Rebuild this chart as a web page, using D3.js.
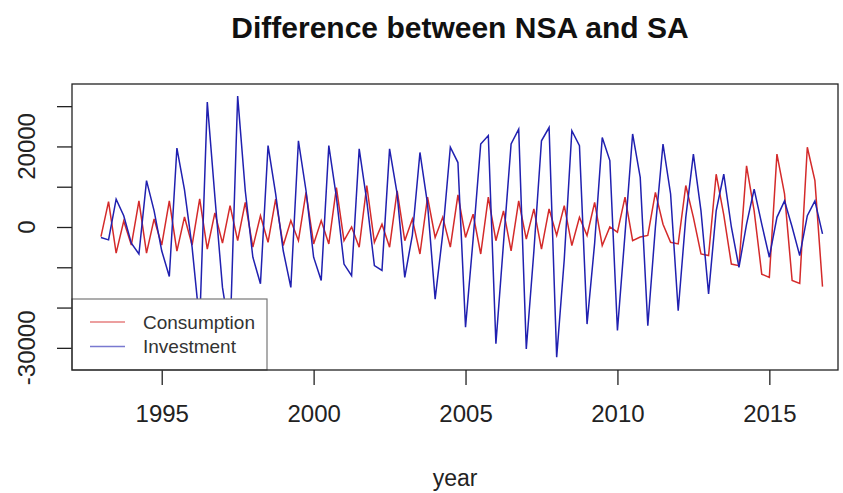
<!DOCTYPE html>
<html>
<head>
<meta charset="utf-8">
<script src="https://cdn.jsdelivr.net/npm/d3@7"></script>
<style>
  body { margin: 0; background: #fff; }
  text { font-family: "Liberation Sans", Arial, sans-serif; }
</style>
</head>
<body>
<svg id="stage"></svg>
<script>
/* ---------- data ---------- */

const start_year = 1993;
const series_names = ["Consumption", "Investment"];
const series_colors = ["#d42a2a", "#2020b0"];

// quarterly, 1993 Q1 .. 2016 Q4
const consumption = [
  -2400, 6300, -6500, 1500,
  -4500, 6500, -6500, 2000,
  -4500, 6500, -6000, 2500,
  -4500, 7000, -5500, 3500,
  -4000, 5300, -3400, 6100,
  -5000, 2800, -3800, 6900,
  -4600, 1600, -3400, 8600,
  -4200, 1600, -4200, 9800,
  -3400, 0, -5000, 10300,
  -3800, 700, -5000, 9000,
  -3400, 2000, -6700, 7400,
  -2600, 2400, -5000, 8000,
  -2600, 3200, -6700, 7400,
  -3400, 4000, -5900, 6500,
  -3000, 4500, -5500, 4500,
  -2100, 5300, -4600, 2400,
  -2100, 6100, -4600, 0,
  -1300, 7400, -3400, -2500,
  -2100, 8600, 700, -3800,
  -4200, 10300, 2400, -6700,
  -7100, 13100, 3000, -9200,
  -9600, 15200, 4000, -11700,
  -12500, 18100, 8200, -13300,
  -14000, 19800, 11500, -14800
];

const investment = [
  -2600, -3200, 6900, 2800,
  -4000, -6700, 11500, 4000,
  -5900, -12300, 19600, 9200,
  -5000, -24000, 31000, 7500,
  -15000, -27000, 32500, 9000,
  -7500, -14100, 20200, 8200,
  -5900, -15000, 21400, 9000,
  -7500, -13300, 20200, 7400,
  -9200, -12100, 19400, 6500,
  -9600, -10800, 19400, 8200,
  -12500, -2000, 18500, 5700,
  -17900, -1700, 19800, 16000,
  -24900, -3000, 20600, 22700,
  -29000, -4000, 20600, 24300,
  -30300, -6000, 21400, 24700,
  -32300, -8000, 23900, 20200,
  -24100, -4000, 22200, 16500,
  -25700, -1700, 23100, 12300,
  -24500, 0, 20600, 8200,
  -20800, 2400, 18100, 4000,
  -16600, 4000, 13100, 0,
  -10000, 700, 9400, 700,
  -7500, 2400, 6500, 0,
  -7100, 2800, 6500, -1700
];

const x_ticks = [1995, 2000, 2005, 2010, 2015];
const y_ticks = [-30000, -20000, -10000, 0, 10000, 20000, 30000];
const y_tick_labels = [-30000, 0, 20000];

/* ---------- basic setup ---------- */

const width = 843;
const height = 493;
const box = { left: 72, right: 838, top: 84, bottom: 370 };

const svg = d3.select("#stage")
  .attr("width", width)
  .attr("height", height);

const x = d3.scaleLinear()
  .domain([1992.047, 2017.26])
  .range([box.left, box.right]);

const y = d3.scaleLinear()
  .domain([-35500, 35500])
  .range([box.bottom, box.top]);

const series = [consumption, investment].map((vals, k) => ({
  name: series_names[k],
  color: series_colors[k],
  points: vals.map((v, i) => ({ t: start_year + i / 4, v }))
}));

/* ---------- lines ---------- */

const line = d3.line()
  .x(d => x(d.t))
  .y(d => y(d.v));

svg.append("g")
  .selectAll("path")
  .data(series)
  .join("path")
  .attr("d", d => line(d.points))
  .attr("fill", "none")
  .attr("stroke", d => d.color)
  .attr("stroke-width", 1.5)
  .attr("stroke-linejoin", "miter");

/* ---------- axes ---------- */

const x_axis = svg.append("g")
  .attr("transform", `translate(0, ${box.bottom})`)
  .call(d3.axisBottom(x).tickValues(x_ticks).tickFormat(d3.format("d")).tickSize(15).tickPadding(20));

const y_axis = svg.append("g")
  .attr("transform", `translate(${box.left}, 0)`)
  .call(d3.axisLeft(y).tickValues(y_ticks).tickSize(15).tickFormat(""));

[x_axis, y_axis].forEach(a => {
  a.select(".domain").remove();
  a.selectAll("line").attr("stroke", "#222").attr("stroke-width", 1.3);
});

x_axis.selectAll("text")
  .attr("font-size", 24)
  .attr("fill", "#222");

svg.append("g")
  .selectAll("text")
  .data(y_tick_labels)
  .join("text")
  .attr("transform", d => `translate(35, ${y(d)}) rotate(-90)`)
  .attr("text-anchor", "middle")
  .attr("font-size", 24)
  .attr("fill", "#222")
  .text(d => d);

/* ---------- legend ---------- */

const legend = svg.append("g");

legend.append("rect")
  .attr("x", box.left)
  .attr("y", 299)
  .attr("width", 195)
  .attr("height", box.bottom - 299)
  .attr("fill", "#fff")
  .attr("stroke", "#777")
  .attr("stroke-width", 1.2);

const legend_rows = legend.selectAll("g.row")
  .data(series)
  .join("g")
  .attr("class", "row")
  .attr("transform", (d, i) => `translate(0, ${322 + i * 24.5})`);

legend_rows.append("line")
  .attr("x1", 90).attr("x2", 125)
  .attr("stroke", d => d.color)
  .attr("stroke-opacity", 0.6)
  .attr("stroke-width", 1.5);

legend_rows.append("text")
  .attr("x", 143)
  .attr("dy", "0.35em")
  .attr("font-size", 19)
  .attr("fill", "#333")
  .text(d => d.name);

/* ---------- frame and titles ---------- */

svg.append("rect")
  .attr("x", box.left)
  .attr("y", box.top)
  .attr("width", box.right - box.left)
  .attr("height", box.bottom - box.top)
  .attr("fill", "none")
  .attr("stroke", "#222")
  .attr("stroke-width", 1.3);

svg.append("text")
  .attr("x", 460)
  .attr("y", 38)
  .attr("text-anchor", "middle")
  .attr("font-size", 30)
  .attr("font-weight", "bold")
  .attr("fill", "#111")
  .text("Difference between NSA and SA");

svg.append("text")
  .attr("x", (box.left + box.right) / 2)
  .attr("y", 486)
  .attr("text-anchor", "middle")
  .attr("font-size", 23)
  .attr("fill", "#222")
  .text("year");
</script>
</body>
</html>
